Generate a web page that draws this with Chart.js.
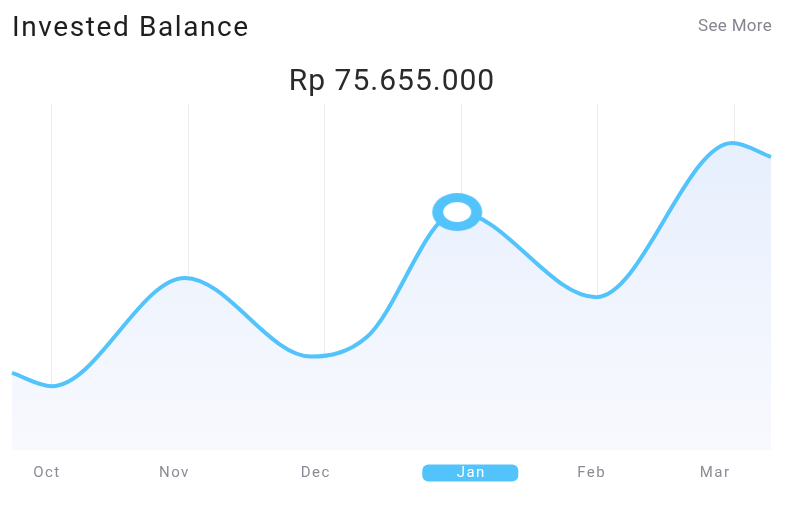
<!DOCTYPE html>
<html>
<head>
<meta charset="utf-8">
<script src="https://cdn.jsdelivr.net/npm/chart.js@4"></script>
<style>
  html,body{margin:0;padding:0;background:#fff;}
  body{width:789px;height:518px;position:relative;overflow:hidden;font-family:Roboto,"Liberation Sans",sans-serif;}
  #title{position:absolute;left:12px;top:10px;font-size:28px;letter-spacing:1.6px;color:#1e1e1e;white-space:nowrap;}
  #more{position:absolute;right:17px;top:15px;font-size:17px;color:#85858f;letter-spacing:0.3px;white-space:nowrap;}
  #value{position:absolute;left:0;width:784px;text-align:center;top:62px;font-size:30px;color:#2a2a2a;letter-spacing:1px;white-space:nowrap;}
  #wrap{position:absolute;left:0;top:0;width:789px;height:518px;}
</style>
</head>
<body>
<div id="wrap"><canvas id="c" width="789" height="518"></canvas></div>
<div id="title">Invested Balance</div>
<div id="more">See More</div>
<div id="value">Rp 75.655.000</div>
<script>
// ---- data ----
const monthLabels = ['Oct', 'Nov', 'Dec', 'Jan', 'Feb', 'Mar'];
const pointMonths = [-0.293, 0, 0.975, 1.9, 2.31, 2.97, 3.99, 4.985, 5.27];      // position in months (0 = Oct)
const balanceValues = [24.5, 20.3, 54.7, 29.7, 36.0, 75.655, 48.6, 97.6, 93.2];   // Rp, millions
const selectedIndex = 5;      // highlighted point (Jan)
const selectedMonth = 3;      // highlighted label (Jan)

// ---- style ----
const labelShift = [-6, -15, -10, 9, -7, -20];
const lineColor = '#52c4fb';

const ring = document.createElement('canvas');
ring.width = 54; ring.height = 42;
(function(){
  const g = ring.getContext('2d');
  g.fillStyle = lineColor;
  g.beginPath(); g.ellipse(27, 21, 25, 19, 0, 0, Math.PI*2); g.fill();
  g.fillStyle = '#ffffff';
  g.beginPath(); g.ellipse(27, 21, 14, 10, 0, 0, Math.PI*2); g.fill();
})();

const points = pointMonths.map((m, i) => ({x: m, y: balanceValues[i]}));

const labelPlugin = {
  id: 'monthLabels',
  afterDraw(chart) {
    const ctx = chart.ctx, sx = chart.scales.x;
    ctx.save();
    ctx.font = '15px Roboto, "Liberation Sans", sans-serif';
    ctx.textAlign = 'center';
    ctx.textBaseline = 'middle';
    if (ctx.letterSpacing !== undefined) ctx.letterSpacing = '1.5px';
    const y = chart.chartArea.bottom + 23;
    monthLabels.forEach((lab, i) => {
      const x = sx.getPixelForValue(i) + labelShift[i];
      if (i === selectedMonth) {
        ctx.fillStyle = lineColor;
        ctx.beginPath();
        ctx.roundRect(x - 48, y - 8.5, 96, 17, 6);
        ctx.fill();
        ctx.fillStyle = '#ffffff';
      } else {
        ctx.fillStyle = '#8b8b97';
      }
      ctx.fillText(lab, x + 1, y);
    });
    ctx.restore();
  }
};

new Chart(document.getElementById('c'), {
  type: 'line',
  data: {
    datasets: [{
      data: points,
      borderColor: lineColor,
      borderWidth: 4,
      cubicInterpolationMode: 'monotone',
      fill: 'start',
      backgroundColor: (ctx) => {
        const a = ctx.chart.chartArea;
        if (!a) return '#eef3fe';
        const g = ctx.chart.ctx.createLinearGradient(0, a.top, 0, a.bottom);
        g.addColorStop(0, '#e5eefd');
        g.addColorStop(1, '#f8f9fe');
        return g;
      },
      pointRadius: (c) => c.dataIndex === selectedIndex ? 20 : 0,
      pointHoverRadius: (c) => c.dataIndex === selectedIndex ? 20 : 0,
      pointStyle: (c) => c.dataIndex === selectedIndex ? ring : 'circle',
      clip: false
    }]
  },
  options: {
    responsive: false,
    animation: false,
    events: [],
    layout: {padding: {left: 12, right: 18, top: 104, bottom: 0}},
    plugins: {legend: {display: false}, tooltip: {enabled: false}},
    scales: {
      x: {
        type: 'linear',
        min: -0.293, max: 5.27,
        afterBuildTicks: (s) => { s.ticks = monthLabels.map((_, i) => ({value: i})); },
        afterFit: (s) => { s.height = 68; },
        grid: {color: '#ececef', lineWidth: 1, drawTicks: false},
        border: {display: false},
        ticks: {display: false}
      },
      y: {
        display: false,
        min: 0, max: 110
      }
    }
  },
  plugins: [labelPlugin]
});
</script>
</body>
</html>
